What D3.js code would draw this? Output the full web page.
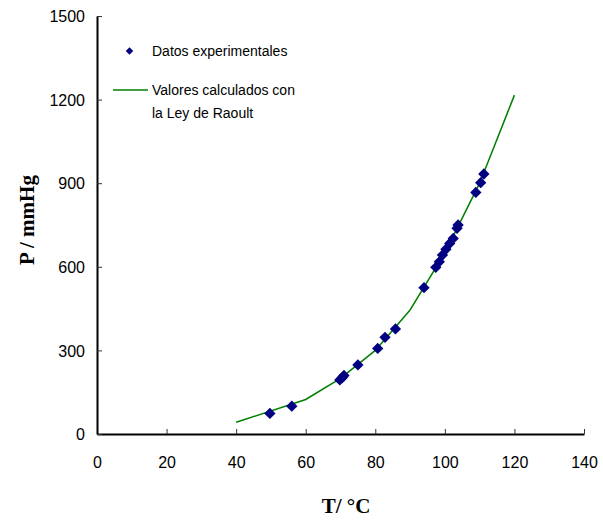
<!DOCTYPE html>
<html><head><meta charset="utf-8">
<script src="https://cdn.jsdelivr.net/npm/d3@7"></script>
<style>body{margin:0;background:#fff}svg{display:block}</style>
</head><body>
<svg id="c" width="603" height="520"></svg>
<script>
// Experimental data
const expT = [49.7, 56.0, 69.8, 70.5, 71.0, 75.0, 80.7, 82.8, 85.8, 94.0, 97.4, 98.4, 99.3, 100.3, 101.4, 102.4, 103.5, 103.8, 108.9, 110.3, 111.2];
const expP = [74, 100, 194, 202, 210, 248, 307, 347, 377, 525, 598, 618, 642, 663, 684, 702, 738, 750, 867, 902, 933];
// Calculated (Raoult) values
const calcT = [40, 60, 70, 80, 90, 100, 110, 120];
const calcP = [42, 124, 200, 300, 445, 650, 900, 1216];
// Ticks
const xTicks = [0, 20, 40, 60, 80, 100, 120, 140];
const yTicks = [0, 300, 600, 900, 1200, 1500];
const legendLabels = ["Datos experimentales", "Valores calculados con", "la Ley de Raoult"];

const svg = d3.select("#c");
const x = d3.scaleLinear().domain([0, 140]).range([97, 584]);
const y = d3.scaleLinear().domain([0, 1500]).range([434, 16]);

const font = "'Liberation Sans', Arial, sans-serif";
const serif = "'Liberation Serif', 'Times New Roman', serif";

// Axes
const xAxis = svg.append("g").attr("transform", `translate(0,${y(0)})`)
  .call(d3.axisBottom(x).tickValues(xTicks).tickSizeInner(-5).tickSizeOuter(0).tickPadding(0).tickFormat(d3.format("d")));
const yAxis = svg.append("g").attr("transform", `translate(${x(0)},0)`)
  .call(d3.axisLeft(y).tickValues(yTicks).tickSizeInner(-5).tickSizeOuter(0).tickPadding(12).tickFormat(d3.format("d")));
[xAxis, yAxis].forEach(a => {
  a.select(".domain").attr("stroke", "#000").attr("stroke-width", 2);
  a.selectAll(".tick line").attr("stroke", "#333").attr("stroke-width", 1);
  a.selectAll("text").attr("font-family", font).attr("font-size", 16).attr("fill", "#000");
});
xAxis.selectAll("text").attr("dy", null).attr("y", 34);
yAxis.selectAll("text").attr("dy", "0.36em");

// Calculated line
const line = d3.line().x((d, i) => x(calcT[i])).y((d, i) => y(calcP[i]));
svg.append("path").datum(calcP).attr("d", line)
  .attr("fill", "none").attr("stroke", "#008000").attr("stroke-width", 1.5);

// Experimental markers
svg.append("g").selectAll("path").data(expP).join("path")
  .attr("transform", (d, i) => `translate(${x(expT[i])},${y(d)}) rotate(45)`)
  .attr("d", d3.symbol().type(d3.symbolSquare).size(64))
  .attr("fill", "#000080");

// Legend
svg.append("path").attr("transform", "translate(129.5,51) rotate(45)")
  .attr("d", d3.symbol().type(d3.symbolSquare).size(28)).attr("fill", "#000080");
svg.append("line").attr("x1", 113).attr("x2", 148).attr("y1", 90).attr("y2", 90)
  .attr("stroke", "#008000").attr("stroke-width", 1.5);
const ly = [56, 95, 118];
svg.append("g").selectAll("text").data(legendLabels).join("text")
  .attr("x", 152).attr("y", (d, i) => ly[i]).text(d => d)
  .attr("font-family", font).attr("font-size", 14).attr("fill", "#000");

// Axis titles
svg.append("text").attr("x", 346).attr("y", 513).attr("text-anchor", "middle")
  .attr("font-family", serif).attr("font-weight", "bold").attr("font-size", 21).text("T/ °C");
svg.append("text").attr("transform", "translate(34,220) rotate(-90)").attr("text-anchor", "middle")
  .attr("font-family", serif).attr("font-weight", "bold").attr("font-size", 21).text("P / mmHg");
</script>
</body></html>
